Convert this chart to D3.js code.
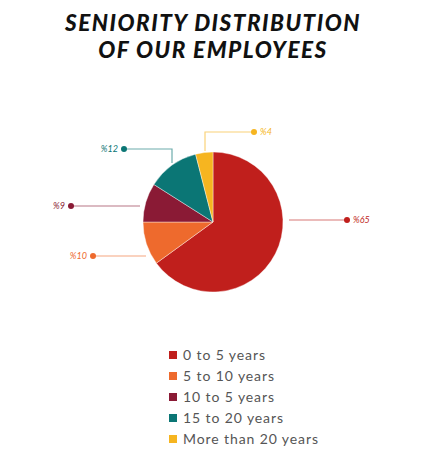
<!DOCTYPE html>
<html>
<head>
<meta charset="utf-8">
<script src="https://cdn.jsdelivr.net/npm/d3@7"></script>
<style>
	body { margin: 0; background: #fff; }
	svg { display: block; }
</style>
</head>
<body>
<svg width="435" height="460"></svg>
<script>
const categories = ['0 to 5 years', '5 to 10 years', '10 to 5 years', '15 to 20 years', 'More than 20 years'];
const values = [65, 10, 9, 12, 4];
const colors = ['#c01f1c', '#ee6a2d', '#8a1a35', '#0b7675', '#f6b520'];
const titleLines = ['SENIORITY DISTRIBUTION', 'OF OUR EMPLOYEES'];

const svg = d3.select('svg');
const cx = 213;
const cy = 222;
const radius = 70;

// title
svg.append('g')
	.selectAll('text')
	.data(titleLines)
	.join('text')
	.attr('x', 213)
	.attr('y', (d, i) => 30.5 + i * 27.5)
	.attr('text-anchor', 'middle')
	.attr('font-family', 'Lato, sans-serif')
	.attr('font-weight', 900)
	.attr('font-style', 'italic')
	.attr('font-size', 22.5)
	.attr('letter-spacing', 1.5)
	.attr('fill', '#111')
	.text(d => d);

const data = categories.map((c, i) => ({name: c, value: values[i], color: colors[i]}));

const pie = d3.pie().sort(null).value(d => d.value);
const arc = d3.arc().innerRadius(0).outerRadius(radius);
const arcs = pie(data);

const g = svg.append('g')
	.attr('transform', 'translate(' + cx + ',' + cy + ')');

g.selectAll('path')
	.data(arcs)
	.join('path')
	.attr('d', arc)
	.attr('fill', d => d.data.color)
	.attr('stroke', '#fff')
	.attr('stroke-width', 0.4);

// callouts: start just outside the pie, optional elbow, end at dot
const callouts = [
	{dx: [76, 134], dy: [-2, -2]},
	{dx: [-67, -120], dy: [34, 34]},
	{dx: [-73, -142], dy: [-16, -16]},
	{dx: [-41, -41, -89], dy: [-59, -73, -73]},
	{dx: [-8, -8, 41], dy: [-71, -90, -90]}
];

const line = d3.line().x(d => d[0]).y(d => d[1]);

arcs.forEach((a, i) => {
	const c = callouts[i];
	const pts = c.dx.map((x, j) => [x, c.dy[j]]);
	const end = pts[pts.length - 1];
	const right = end[0] > 0;
	g.append('path')
		.attr('d', line(pts))
		.attr('fill', 'none')
		.attr('stroke', a.data.color)
		.attr('stroke-opacity', 0.6)
		.attr('stroke-width', 1.2);
	g.append('circle')
		.attr('cx', end[0])
		.attr('cy', end[1])
		.attr('r', 3)
		.attr('fill', a.data.color);
	g.append('text')
		.attr('x', end[0] + (right ? 6 : -6))
		.attr('y', end[1])
		.attr('dy', '0.35em')
		.attr('text-anchor', right ? 'start' : 'end')
		.attr('font-family', 'Lato, sans-serif')
		.attr('font-style', 'italic')
		.attr('font-size', 9)
		.attr('fill', a.data.color)
		.text('%' + a.data.value);
});

// legend
const legend = svg.append('g')
	.attr('transform', 'translate(169,355)');

const rows = legend.selectAll('g')
	.data(data)
	.join('g')
	.attr('transform', (d, i) => 'translate(0,' + i * 21 + ')');

rows.append('rect')
	.attr('x', 0)
	.attr('y', -4)
	.attr('width', 8)
	.attr('height', 8)
	.attr('fill', d => d.color);

rows.append('text')
	.attr('x', 14)
	.attr('dy', '0.35em')
	.attr('font-family', 'Lato, sans-serif')
	.attr('font-size', 14)
	.attr('letter-spacing', 0.9)
	.attr('fill', '#555')
	.text(d => d.name);
</script>
</body>
</html>
